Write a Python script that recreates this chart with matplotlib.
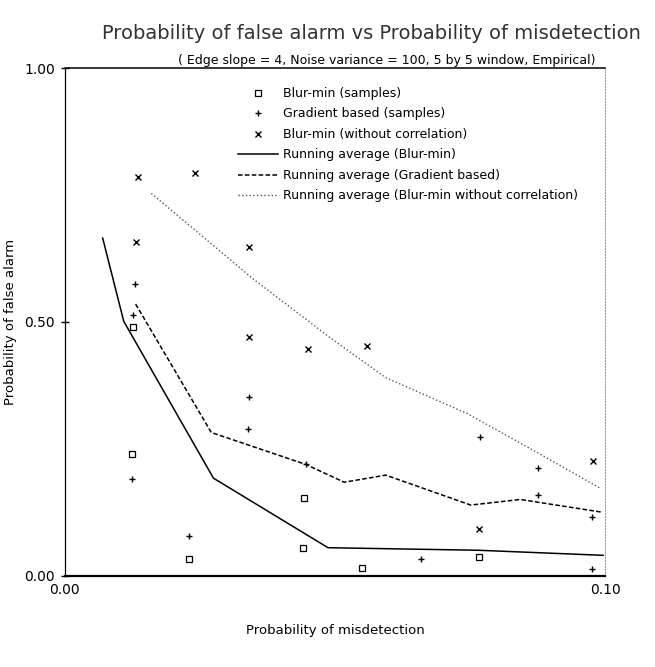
import matplotlib
matplotlib.use("Agg")
import matplotlib.pyplot as plt

# samples
blur_x = [0.0127, 0.0125, 0.0229, 0.0443, 0.0441, 0.0550, 0.0766]
blur_y = [0.489, 0.240, 0.033, 0.153, 0.054, 0.015, 0.036]

grad_x = [0.0129, 0.0127, 0.0124, 0.0229, 0.0340, 0.0339, 0.0446, 0.0660, 0.0769, 0.0875, 0.0875, 0.0976, 0.0976]
grad_y = [0.574, 0.513, 0.190, 0.079, 0.352, 0.289, 0.219, 0.032, 0.274, 0.212, 0.158, 0.013, 0.116]

nocorr_x = [0.0135, 0.0240, 0.0131, 0.0341, 0.0340, 0.0450, 0.0559, 0.0766, 0.0978]
nocorr_y = [0.786, 0.794, 0.657, 0.647, 0.471, 0.447, 0.452, 0.091, 0.225]

# running averages
avg_blur_x = [0.0070, 0.0109, 0.0275, 0.0487, 0.0764, 0.0996]
avg_blur_y = [0.665, 0.501, 0.192, 0.055, 0.050, 0.040]

avg_grad_x = [0.0131, 0.0271, 0.0446, 0.0517, 0.0594, 0.0751, 0.0843, 0.0994]
avg_grad_y = [0.535, 0.282, 0.219, 0.184, 0.198, 0.139, 0.150, 0.125]

avg_nocorr_x = [0.0160, 0.0349, 0.0493, 0.0594, 0.0745, 0.0875, 0.0991]
avg_nocorr_y = [0.753, 0.584, 0.467, 0.390, 0.319, 0.242, 0.172]

fig = plt.figure(figsize=(6.55, 6.67), dpi=100)
ax = fig.add_axes([0.099, 0.137, 0.825, 0.761])

ax.plot(blur_x, blur_y, ls="none", marker="s", mfc="none", mec="black", ms=4, mew=0.9,
        label="Blur-min (samples)")
ax.plot(grad_x, grad_y, ls="none", marker="+", color="black", ms=5, mew=1.0,
        label="Gradient based (samples)")
ax.plot(nocorr_x, nocorr_y, ls="none", marker="x", color="black", ms=4, mew=1.0,
        label="Blur-min (without correlation)")
ax.plot(avg_blur_x, avg_blur_y, "-", color="black", lw=1.1,
        label="Running average (Blur-min)")
ax.plot(avg_grad_x, avg_grad_y, "--", color="black", lw=1.1, dashes=(3, 1.5),
        label="Running average (Gradient based)")
ax.plot(avg_nocorr_x, avg_nocorr_y, ":", color="#555555", lw=1.0,
        label="Running average (Blur-min without correlation)")

ax.set_xlim(0, 0.10)
ax.set_ylim(0, 1.0)
ax.set_xticks([0.0, 0.10])
ax.set_xticklabels(["0.00", "0.10"], fontsize=10)
ax.set_yticks([0.0, 0.5, 1.0])
ax.set_yticklabels(["0.00", "0.50", "1.00"], fontsize=10)
ax.tick_params(axis="x", length=0, pad=5)
ax.tick_params(axis="y", length=6, width=1, direction="inout", pad=4)

for side in ["left", "top", "bottom"]:
    ax.spines[side].set_color("black")
ax.spines["left"].set_linewidth(0.9)
ax.spines["top"].set_linewidth(1.1)
ax.spines["bottom"].set_linewidth(1.6)
ax.spines["right"].set_linestyle(":")
ax.spines["right"].set_color("#999999")

ax.set_xlabel("Probability of misdetection", fontsize=9.5, labelpad=20)
ax.set_ylabel("Probability of false alarm", fontsize=9.5, labelpad=5)

fig.text(0.567, 0.950, "Probability of false alarm vs Probability of misdetection",
         ha="center", va="center", fontsize=14, color="#333333")
fig.text(0.59, 0.910, "( Edge slope = 4, Noise variance = 100, 5 by 5 window, Empirical)",
         ha="center", va="center", fontsize=9)

ax.legend(loc="upper left", bbox_to_anchor=(0.30, 0.985), frameon=False, fontsize=9,
          handlelength=3.2, handletextpad=0.4, labelspacing=0.6, markerfirst=True)

fig.savefig("out.png", dpi=100)
